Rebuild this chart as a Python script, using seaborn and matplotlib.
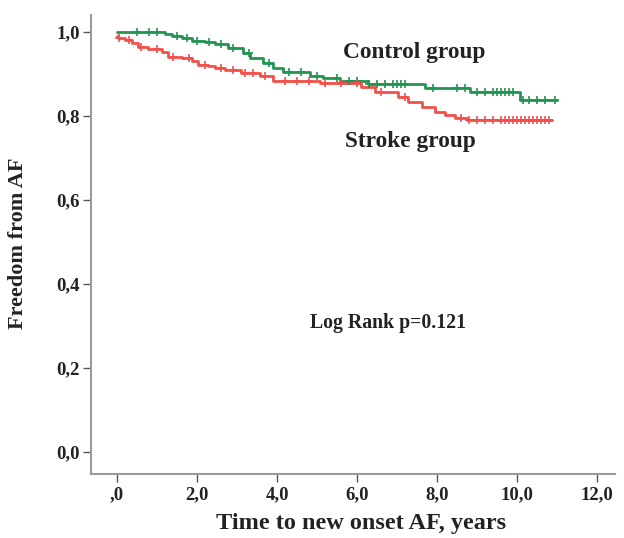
import numpy as np
import pandas as pd
import matplotlib
matplotlib.use("Agg")
import matplotlib.pyplot as plt
import seaborn as sns

# ---- data ----
control_times = [0.0, 1.20, 1.37, 1.63, 1.88, 2.20, 2.45, 2.78, 3.15, 3.33, 3.65, 3.90, 4.15,
                 4.83, 5.15, 5.58, 6.28, 7.70, 8.83, 10.07, 11.0]
control_surv = [1.000, 0.996, 0.990, 0.985, 0.979, 0.976, 0.970, 0.962, 0.950, 0.937, 0.926,
                0.914, 0.905, 0.895, 0.890, 0.884, 0.875, 0.866, 0.856, 0.837, 0.837]
control_censor = [0.5, 0.8, 1.0, 1.5, 1.75, 2.0, 2.3, 2.6, 2.9, 3.3, 3.8, 4.3, 4.6, 5.0, 5.5,
                  5.8, 6.0, 6.3, 6.5, 6.7, 6.9, 7.0, 7.1, 7.2, 7.9, 8.5, 8.7, 9.0, 9.2, 9.4,
                  9.5, 9.6, 9.7, 9.8, 9.9, 10.15, 10.3, 10.5, 10.7, 10.95]

stroke_times = [0.0, 0.03, 0.20, 0.37, 0.53, 0.78, 1.12, 1.28, 1.63, 1.88, 2.03, 2.28, 2.45,
                2.70, 3.10, 3.58, 3.90, 5.08, 6.10, 6.45, 7.03, 7.28, 7.63, 7.95, 8.20,
                8.45, 8.75, 10.87]
stroke_surv = [0.990, 0.985, 0.981, 0.973, 0.965, 0.960, 0.953, 0.941, 0.937, 0.930, 0.921,
               0.918, 0.914, 0.910, 0.902, 0.894, 0.884, 0.878, 0.870, 0.858, 0.846, 0.834,
               0.822, 0.810, 0.802, 0.794, 0.790, 0.790]
stroke_censor = [0.05, 0.3, 0.6, 1.0, 1.4, 1.8, 2.2, 2.6, 2.9, 3.2, 3.4, 3.7, 4.2, 4.5, 4.8,
                 5.2, 5.6, 6.0, 6.6, 7.2, 8.6, 8.8, 9.0, 9.2, 9.4, 9.6, 9.7, 9.8, 9.9, 10.0,
                 10.1, 10.2, 10.3, 10.4, 10.5, 10.6, 10.7, 10.8]

x_ticks = [0, 2, 4, 6, 8, 10, 12]
x_ticklabels = [",0", "2,0", "4,0", "6,0", "8,0", "10,0", "12,0"]
y_ticks = [0.0, 0.2, 0.4, 0.6, 0.8, 1.0]
y_ticklabels = ["0,0", "0,2", "0,4", "0,6", "0,8", "1,0"]

GREEN = "#239553"
RED = "#f2504a"

sns.set_style("white")
plt.rcParams["font.family"] = ["Liberation Serif", "DejaVu Serif"]

fig = plt.figure(figsize=(6.24, 5.38), dpi=100)
ax = fig.add_axes([0.146, 0.119, 0.840, 0.853])


def censor_frame(times, stimes, surv):
    idx = np.searchsorted(np.array(stimes), np.array(times), side="right") - 1
    return pd.DataFrame({"t": times, "s": np.array(surv)[idx]})


for times, surv, cens, col in [(control_times, control_surv, control_censor, GREEN),
                               (stroke_times, stroke_surv, stroke_censor, RED)]:
    df = pd.DataFrame({"t": times, "s": surv})
    sns.lineplot(data=df, x="t", y="s", ax=ax, color=col, lw=2.0,
                 drawstyle="steps-post", estimator=None, sort=False)
    cdf = censor_frame(cens, times, surv)
    sns.scatterplot(data=cdf, x="t", y="s", ax=ax, color=col, marker="+",
                    s=35, linewidth=1.2, zorder=3)

ax.set_xlim(-0.65, 12.45)
ax.set_ylim(-0.052, 1.04)
ax.set_xticks(x_ticks)
ax.set_xticklabels(x_ticklabels)
ax.set_yticks(y_ticks)
ax.set_yticklabels(y_ticklabels)

for side in ["top", "right"]:
    ax.spines[side].set_visible(False)
for side in ["left", "bottom"]:
    ax.spines[side].set_color("#9a9a9a")
    ax.spines[side].set_linewidth(1.5)

ax.tick_params(axis="both", direction="out", length=6, width=1.0, color="#555555",
               labelsize=13.5, labelcolor="#222222", left=True, bottom=True)
ax.tick_params(axis="y", pad=2)
ax.tick_params(axis="x", pad=3)
for lab in ax.get_xticklabels() + ax.get_yticklabels():
    lab.set_fontweight("bold")

ax.set_xlabel("Time to new onset AF, years", fontsize=17.5, fontweight="bold",
              color="#222222")
ax.set_ylabel("Freedom from AF", fontsize=16, fontweight="bold", color="#222222")
ax.xaxis.set_label_coords(0.515, -0.086)
ax.yaxis.set_label_coords(-0.12, 0.503)

ax.text(5.65, 0.95, "Control group", fontsize=16.8, fontweight="bold", color="#222222",
        va="center", ha="left")
ax.text(5.7, 0.738, "Stroke group", fontsize=16.8, fontweight="bold", color="#222222",
        va="center", ha="left")
ax.text(4.83, 0.307, "Log Rank p=0.121", fontsize=14.2, fontweight="bold",
        color="#222222", va="center", ha="left")

fig.savefig("out.png", dpi=100)
